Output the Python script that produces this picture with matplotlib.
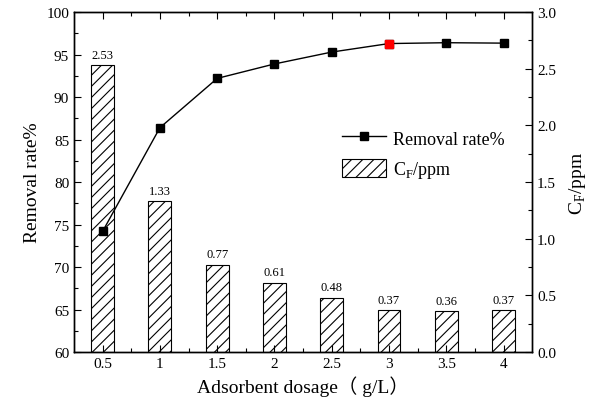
import matplotlib
matplotlib.use("Agg")
import matplotlib.pyplot as plt
from matplotlib.patches import Patch
from matplotlib.lines import Line2D
import numpy as np

plt.rcParams['font.family'] = ['Liberation Serif', 'DejaVu Serif']
plt.rcParams['hatch.linewidth'] = 0.8

dosage = ["0.5", "1", "1.5", "2", "2.5", "3", "3.5", "4"]
removal_rate = [74.2, 86.4, 92.2, 93.9, 95.3, 96.3, 96.4, 96.35]
cf_ppm = [2.53, 1.33, 0.77, 0.61, 0.48, 0.37, 0.36, 0.37]
highlight_index = 5

x = np.arange(len(dosage))

fig = plt.figure(figsize=(5.92, 4.10), dpi=100)
ax = fig.add_axes([0.125, 0.139, 0.774, 0.829])
ax2 = ax.twinx()

# Fluoride concentration bars on the right axis
bars = ax2.bar(x, cf_ppm, width=0.4, facecolor='white', edgecolor='black',
               linewidth=0.8, hatch='///')
for xi, v in zip(x, cf_ppm):
    ax2.text(xi, v + 0.04, f"{v:.2f}", ha='center', va='bottom', fontsize=9)

# Removal rate line on the left axis, drawn above the bars
ax.set_zorder(ax2.get_zorder() + 1)
ax.patch.set_visible(False)
ax.plot(x, removal_rate, color='black', linewidth=1.0, marker='s',
        markersize=6, markerfacecolor='black', markeredgecolor='black')
ax.plot(x[highlight_index], removal_rate[highlight_index], marker='s',
        markersize=6, color='red', linestyle='none')

ax.set_xlim(-0.5, 7.5)
ax.set_ylim(60, 100)
ax2.set_ylim(0, 3.0)

ax.set_xticks(x)
ax.set_xticklabels(dosage)
ax.set_xticks(x[:-1] + 0.5, minor=True)
ax.set_yticks(np.arange(60, 101, 5))
ax.set_yticks(np.arange(62.5, 100, 5), minor=True)
ax2.set_yticks(np.arange(0, 3.01, 0.5))
ax2.set_yticklabels([f"{v:.1f}" for v in np.arange(0, 3.01, 0.5)])
ax2.set_yticks(np.arange(0.25, 3.0, 0.5), minor=True)

for a in (ax, ax2):
    a.tick_params(which='both', direction='in', labelsize=11, width=0.8)
    a.tick_params(which='major', length=5)
    a.tick_params(which='minor', length=3)
    for s in a.spines.values():
        s.set_linewidth(1.0)
ax.tick_params(axis='x', which='both', top=True)
ax.tick_params(axis='y', which='both', right=False)

ax.set_xlabel("Adsorbent dosage（ g/L）", fontsize=14)
ax.xaxis.label.set_family(['Liberation Serif', 'Noto Sans CJK SC'])
ax.set_ylabel("Removal rate%", fontsize=14)
ax2.set_ylabel("C$_\\mathregular{F}$/ppm", fontsize=14, labelpad=8)

handles = [
    Line2D([0], [0], color='black', linewidth=1.0, marker='s', markersize=6,
           markerfacecolor='black'),
    Patch(facecolor='white', edgecolor='black', hatch='///', linewidth=0.8),
]
ax.legend(handles, ["Removal rate%", "C$_\\mathregular{F}$/ppm"],
          loc='upper left', bbox_to_anchor=(0.55, 0.705), frameon=False,
          fontsize=13, handlelength=2.4, handleheight=1.2, labelspacing=0.6,
          handletextpad=0.4)

fig.savefig("out.png", dpi=100)
